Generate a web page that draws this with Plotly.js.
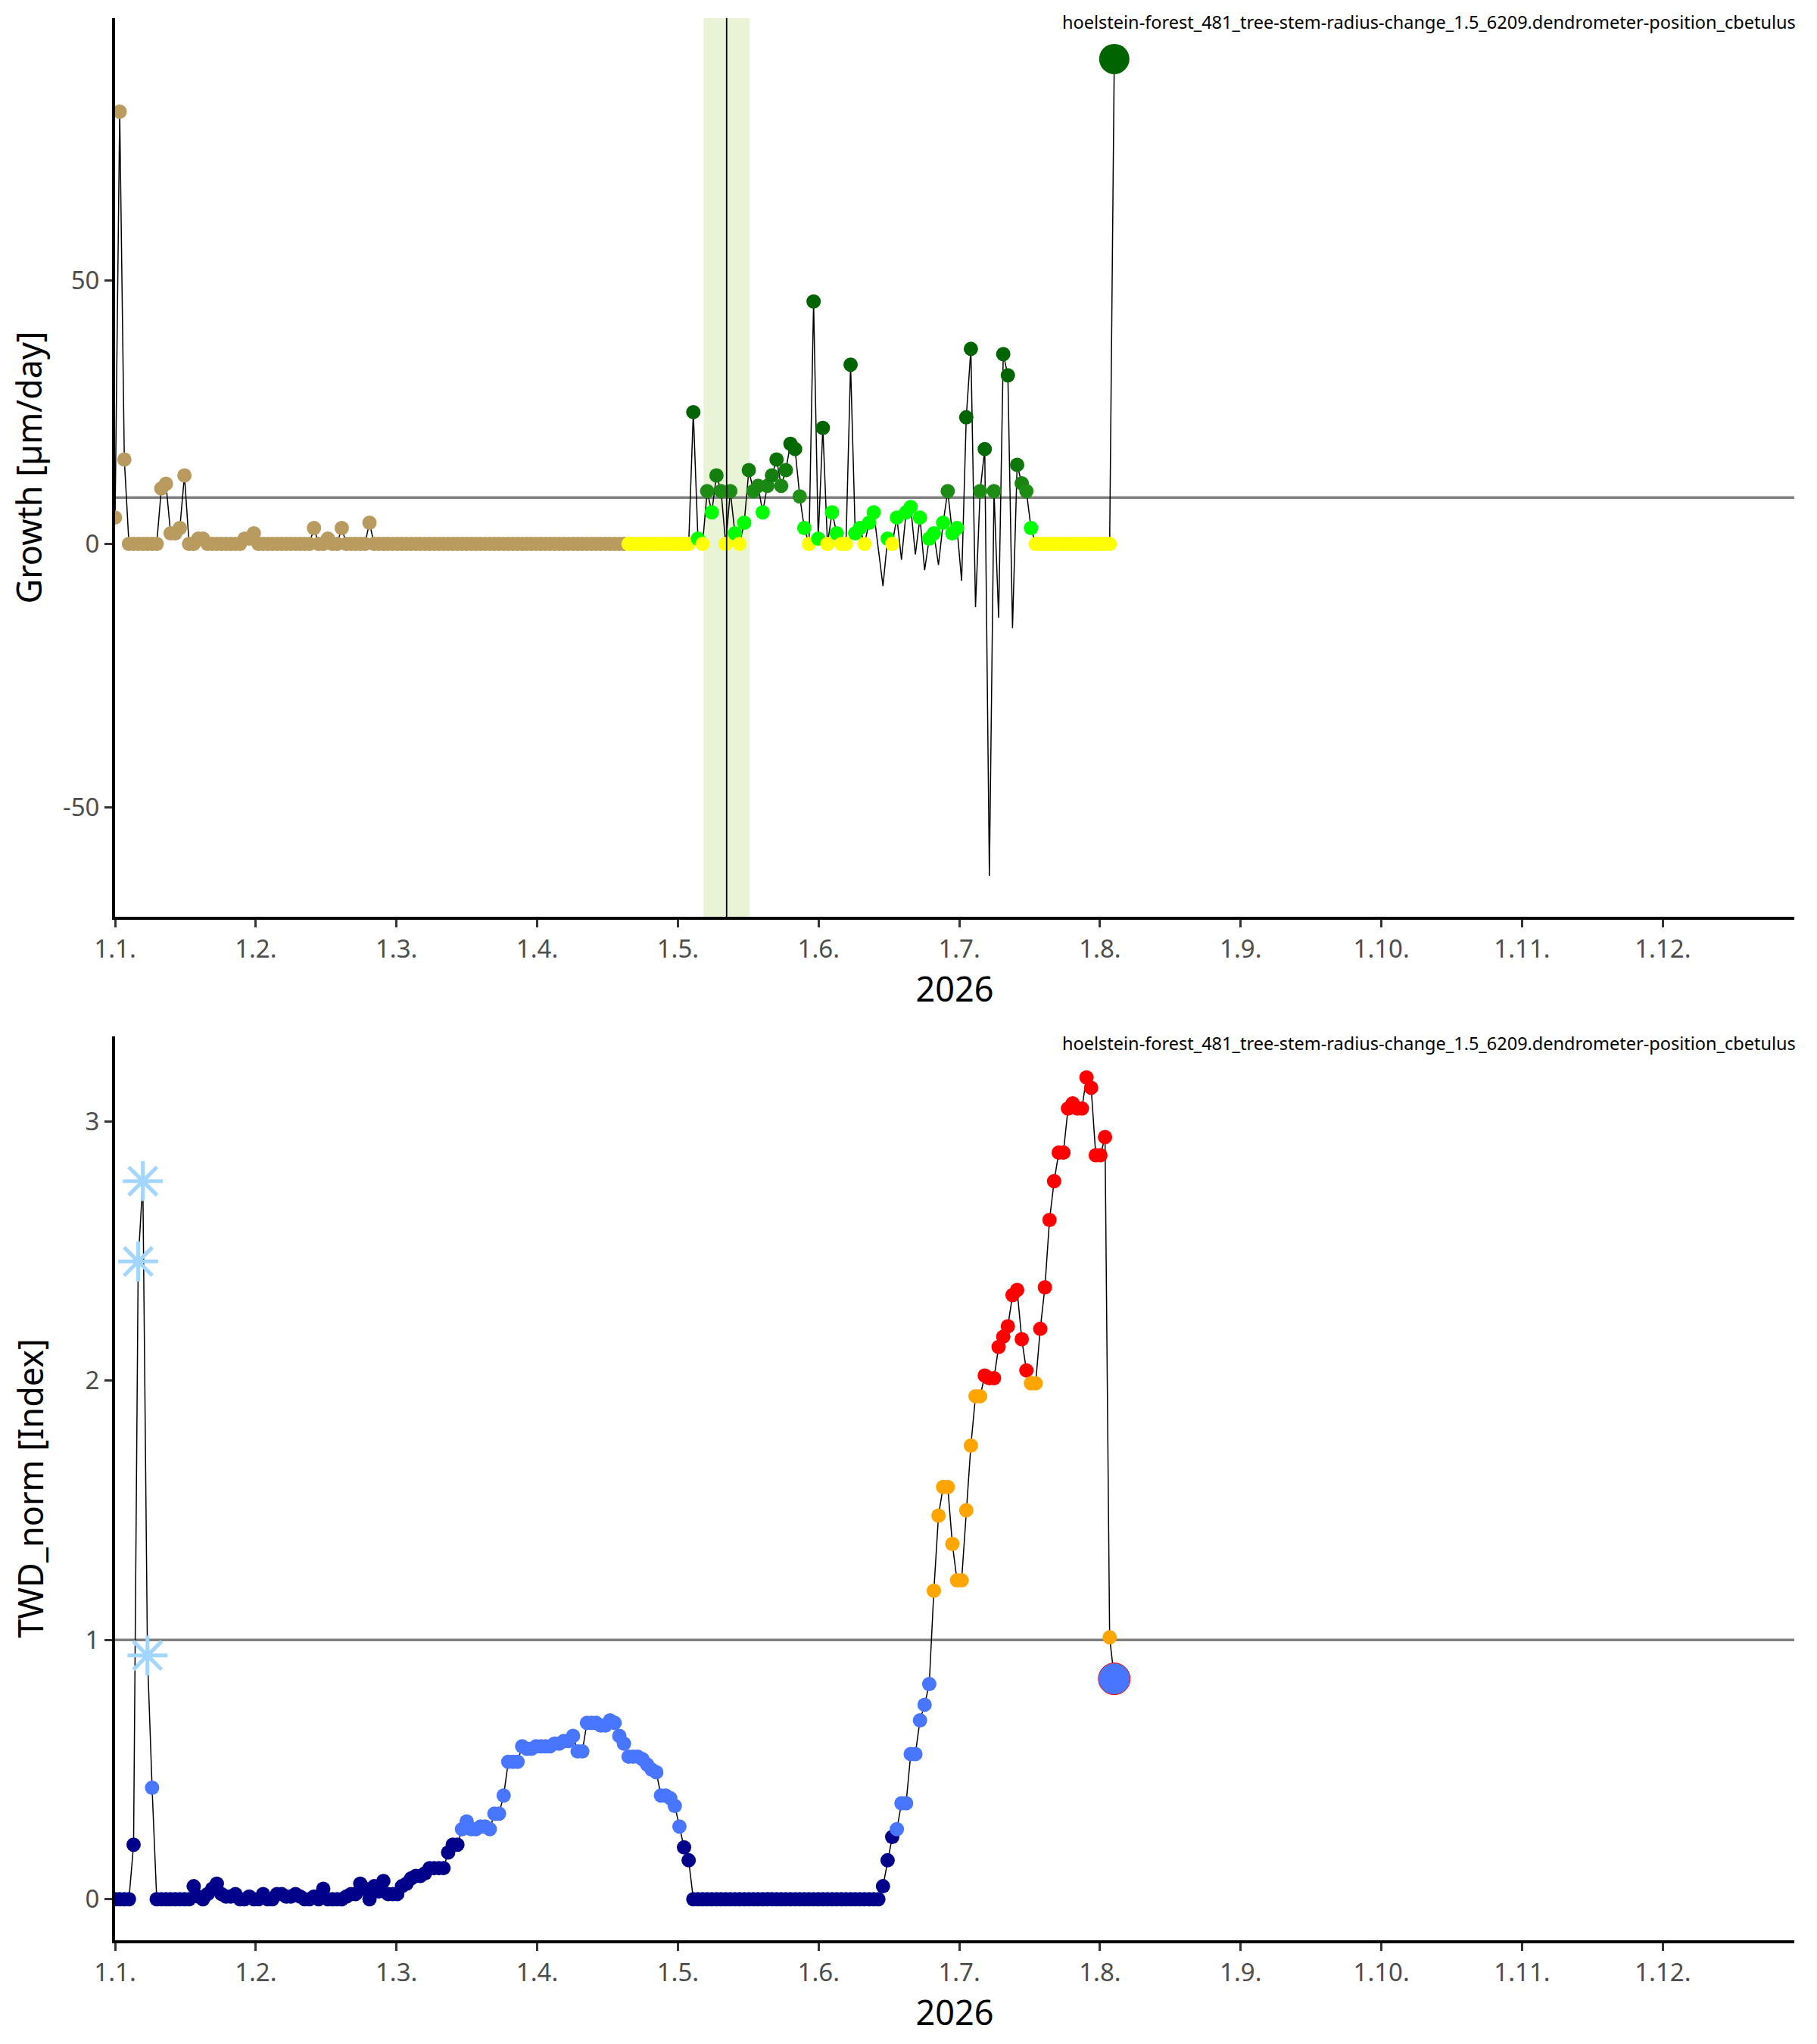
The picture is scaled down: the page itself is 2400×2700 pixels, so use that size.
<!DOCTYPE html>
<html>
<head>
<meta charset="utf-8">
<script src="https://cdn.plot.ly/plotly-3.0.1.min.js"></script>
<style>
  body { margin: 0; background: #fff; }
  #chart { width: 2400px; height: 2700px; }
</style>
</head>
<body>
<div id="chart"></div>
<script>
// one value per day, index 0 = 1 Jan 2026
var growth = [
  5, 82, 16, 0, 0, 0, 0, 0, 0, 0,
  10.5, 11.4, 2, 2, 3, 13, 0, 0, 1, 1,
  0, 0, 0, 0, 0, 0, 0, 0, 1, 1,
  2, 0, 0, 0, 0, 0, 0, 0, 0, 0,
  0, 0, 0, 3, 0, 0, 1, 0, 0, 3,
  0, 0, 0, 0, 0, 4, 0, 0, 0, 0,
  0, 0, 0, 0, 0, 0, 0, 0, 0, 0,
  0, 0, 0, 0, 0, 0, 0, 0, 0, 0,
  0, 0, 0, 0, 0, 0, 0, 0, 0, 0,
  0, 0, 0, 0, 0, 0, 0, 0, 0, 0,
  0, 0, 0, 0, 0, 0, 0, 0, 0, 0,
  0, 0, 0, 0, 0, 0, 0, 0, 0, 0,
  0, 0, 0, 0, 0, 25, 1, 0, 10, 6,
  13, 10, 0, 10, 2, 0, 4, 14, 10, 11,
  6, 11, 13, 16, 11, 14, 19, 18, 9, 3,
  0, 46, 1, 22, 0, 6, 2, 0, 0, 34,
  2, 3, 0, 4, 6, -1, -8, 1, 0, 5,
  -3, 6, 7, -2, 5, -5, 1, 2, -4, 4,
  10, 2, 3, -7, 24, 37, -12, 10, 18, -63,
  10, -14, 36, 32, -16, 15, 11.5, 10, 3, 0,
  0, 0, 0, 0, 0, 0, 0, 0, 0, 0,
  0, 0, 0, 0, 0, 0, 92
];

var twd = [
  0, 0, 0, 0, 0.21, 2.46, 2.77, 0.94, 0.43, 0,
  0, 0, 0, 0, 0, 0, 0, 0.05, 0.01, 0,
  0.02, 0.04, 0.06, 0.02, 0.01, 0.01, 0.02, 0, 0, 0.01,
  0, 0, 0.02, 0, 0, 0.02, 0.02, 0.01, 0.01, 0.02,
  0.01, 0, 0, 0.01, 0, 0.04, 0, 0, 0, 0,
  0.01, 0.02, 0.02, 0.06, 0.04, 0, 0.05, 0.03, 0.07, 0.02,
  0.02, 0.02, 0.05, 0.06, 0.08, 0.09, 0.09, 0.1, 0.12, 0.12,
  0.12, 0.12, 0.18, 0.21, 0.21, 0.27, 0.3, 0.27, 0.27, 0.28,
  0.28, 0.27, 0.33, 0.33, 0.4, 0.53, 0.53, 0.53, 0.59, 0.58,
  0.58, 0.59, 0.59, 0.59, 0.59, 0.6, 0.6, 0.61, 0.61, 0.63,
  0.57, 0.57, 0.68, 0.68, 0.68, 0.67, 0.67, 0.69, 0.68, 0.63,
  0.6, 0.55, 0.55, 0.55, 0.54, 0.52, 0.5, 0.49, 0.4, 0.4,
  0.39, 0.36, 0.28, 0.2, 0.15, 0, 0, 0, 0, 0,
  0, 0, 0, 0, 0, 0, 0, 0, 0, 0,
  0, 0, 0, 0, 0, 0, 0, 0, 0, 0,
  0, 0, 0, 0, 0, 0, 0, 0, 0, 0,
  0, 0, 0, 0, 0, 0, 0.05, 0.15, 0.24, 0.27,
  0.37, 0.37, 0.56, 0.56, 0.69, 0.75, 0.83, 1.19, 1.48, 1.59,
  1.59, 1.37, 1.23, 1.23, 1.5, 1.75, 1.94, 1.94, 2.02, 2.01,
  2.01, 2.13, 2.17, 2.21, 2.33, 2.35, 2.16, 2.04, 1.99, 1.99,
  2.2, 2.36, 2.62, 2.77, 2.88, 2.88, 3.05, 3.07, 3.05, 3.05,
  3.17, 3.13, 2.87, 2.87, 2.94, 1.01, 0.85
];

var twdFlagged = [5, 6, 7];      // days drawn as asterisks
var seasonStart = 111;           // first day of the growing season
var growthMean = 8.8;
var twdLimit = 1;
var onsetDay = 132.2;
var onsetWindow = [127.2, 137.2];
var monthLabels = ['1.1.', '1.2.', '1.3.', '1.4.', '1.5.', '1.6.',
                   '1.7.', '1.8.', '1.9.', '1.10.', '1.11.', '1.12.'];
var yearLabel = '2026';
var seriesName = 'hoelstein-forest_481_tree-stem-radius-change_1.5_6209.dendrometer-position_cbetulus';

var days = growth.map(function(v, i) { return i; });
var last = growth.length - 1;
var monthTicks = monthLabels.map(function(m, k) { return k * 365 / 12; });

function mix(a, b, t) {
  var c = a.map(function(v, k) { return Math.round(v + (b[k] - v) * t); });
  return 'rgb(' + c.join(',') + ')';
}

function growthColor(v, i) {
  if (i < seasonStart) return '#B99B5F';
  if (v === 0) return '#FFFF00';
  if (v < 8.5) return '#00FF00';
  return mix([34, 146, 24], [0, 100, 0], Math.min(1, (v - 8.5) / 11));
}

function twdColor(v) {
  if (v < 0.25) return '#00008B';
  if (v < 1) return '#4876FF';
  if (v < 2) return '#FFA500';
  return '#FF0000';
}

// growth markers: negative days have none
var gx = [], gy = [], gc = [];
growth.forEach(function(v, i) {
  if (v >= 0 && i < last) { gx.push(i); gy.push(v); gc.push(growthColor(v, i)); }
});

var tx = [], ty = [], tc = [], ax = [], ay = [];
twd.forEach(function(v, i) {
  if (i === last) return;
  if (twdFlagged.indexOf(i) >= 0) { ax.push(i); ay.push(v); return; }
  tx.push(i); ty.push(v); tc.push(twdColor(v));
});

var growthLine = {
  x: days, y: growth, xaxis: 'x', yaxis: 'y',
  mode: 'lines', type: 'scatter',
  line: {color: 'black', width: 1.5},
  hoverinfo: 'skip'
};

var growthDots = {
  x: gx, y: gy, xaxis: 'x', yaxis: 'y',
  mode: 'markers', type: 'scatter',
  marker: {color: gc, size: 19}
};

var growthLast = {
  x: [last], y: [growth[last]], xaxis: 'x', yaxis: 'y',
  mode: 'markers', type: 'scatter',
  marker: {color: '#006400', size: 40}
};

var twdLine = {
  x: days, y: twd, xaxis: 'x2', yaxis: 'y2',
  mode: 'lines', type: 'scatter',
  line: {color: 'black', width: 1.5},
  hoverinfo: 'skip'
};

var twdDots = {
  x: tx, y: ty, xaxis: 'x2', yaxis: 'y2',
  mode: 'markers', type: 'scatter',
  marker: {color: tc, size: 19}
};

var twdStars = {
  x: ax, y: ay, xaxis: 'x2', yaxis: 'y2',
  mode: 'markers', type: 'scatter',
  marker: {
    symbol: 'asterisk-open', size: 44, color: '#A3D6FF',
    line: {color: '#A3D6FF', width: 5}
  }
};

var twdLast = {
  x: [last], y: [twd[last]], xaxis: 'x2', yaxis: 'y2',
  mode: 'markers', type: 'scatter',
  marker: {color: twdColor(twd[last]), size: 42, line: {color: '#FF0000', width: 1}}
};

var tickFont = {family: 'Noto Sans', size: 33, color: '#4D4D4D'};
var titleFont = {family: 'Noto Sans', size: 45, color: 'black'};

function xAxis(anchor) {
  return {
    anchor: anchor, domain: [0, 1], range: [0, 363],
    tickmode: 'array', tickvals: monthTicks, ticktext: monthLabels,
    showline: true, linecolor: 'black', linewidth: 4,
    ticks: 'outside', ticklen: 10, tickwidth: 3, tickcolor: '#333333',
    tickfont: tickFont, showgrid: false, zeroline: false,
    title: {text: yearLabel, font: titleFont, standoff: 4}
  };
}

var layout = {
  width: 2400,
  height: 2700,
  margin: {l: 152, r: 30, t: 24, b: 137},
  paper_bgcolor: 'white',
  plot_bgcolor: 'white',
  showlegend: false,
  font: {family: 'Noto Sans'},
  xaxis: xAxis('y'),
  xaxis2: xAxis('y2'),
  yaxis: {
    anchor: 'x', domain: [0.5325, 1], range: [-70.75, 99.75],
    tickmode: 'array', tickvals: [-50, 0, 50], ticktext: ['-50', '0', '50'],
    showline: true, linecolor: 'black', linewidth: 4,
    ticks: 'outside', ticklen: 10, tickwidth: 3, tickcolor: '#333333',
    tickfont: tickFont, showgrid: false, zeroline: false,
    title: {text: 'Growth [µm/day]', font: titleFont, standoff: 14}
  },
  yaxis2: {
    anchor: 'x2', domain: [0, 0.4703], range: [-0.1585, 3.3285],
    tickmode: 'array', tickvals: [0, 1, 2, 3], ticktext: ['0', '1', '2', '3'],
    showline: true, linecolor: 'black', linewidth: 4,
    ticks: 'outside', ticklen: 10, tickwidth: 3, tickcolor: '#333333',
    tickfont: tickFont, showgrid: false, zeroline: false,
    title: {text: 'TWD_norm [Index]', font: titleFont, standoff: 42}
  },
  shapes: [
    {type: 'rect', xref: 'x', yref: 'y domain', x0: onsetWindow[0], x1: onsetWindow[1], y0: 0, y1: 1,
     fillcolor: '#E9F4D6', line: {width: 0}, layer: 'below'},
    {type: 'line', xref: 'x domain', yref: 'y', x0: 0, x1: 1, y0: growthMean, y1: growthMean,
     line: {color: '#808080', width: 3.5}, layer: 'below'},
    {type: 'line', xref: 'x2 domain', yref: 'y2', x0: 0, x1: 1, y0: twdLimit, y1: twdLimit,
     line: {color: '#808080', width: 3.5}, layer: 'below'},
    {type: 'line', xref: 'x', yref: 'y domain', x0: onsetDay, x1: onsetDay, y0: 0, y1: 1,
     line: {color: 'black', width: 1.8}, layer: 'above'}
  ],
  annotations: [
    {xref: 'paper', yref: 'paper', x: 1.002, y: 0.998, xanchor: 'right', yanchor: 'middle',
     text: seriesName, showarrow: false, font: {family: 'Noto Sans', size: 23.5, color: 'black'}},
    {xref: 'paper', yref: 'paper', x: 1.002, y: 0.4667, xanchor: 'right', yanchor: 'middle',
     text: seriesName, showarrow: false, font: {family: 'Noto Sans', size: 23.5, color: 'black'}}
  ]
};

Plotly.newPlot('chart',
  [growthLine, growthDots, growthLast, twdLine, twdDots, twdStars, twdLast],
  layout, {staticPlot: true});
</script>
</body>
</html>
